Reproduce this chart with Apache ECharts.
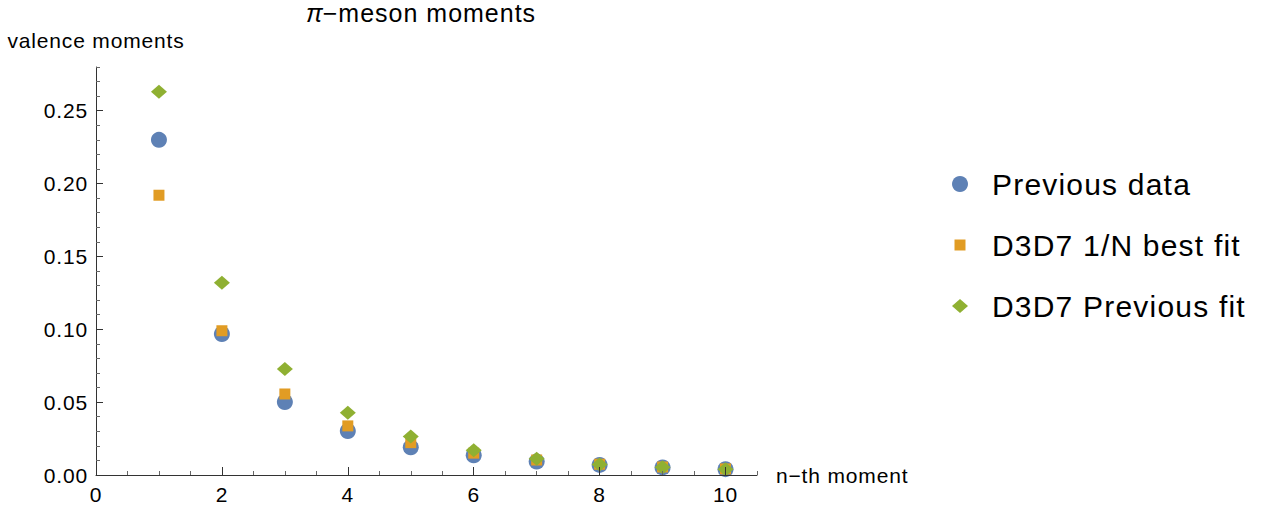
<!DOCTYPE html>
<html>
<head>
<meta charset="utf-8">
<script src="https://cdn.jsdelivr.net/npm/echarts/dist/echarts.min.js"></script>
<style>
  html, body { margin: 0; padding: 0; background: #ffffff; }
  #chart { width: 1275px; height: 510px; }
  /* slightly open tracking for every label */
  #chart text { letter-spacing: 0.04em; }
</style>
</head>
<body>
<div id="chart"></div>
<script>
// n-th moment
const moments = [1, 2, 3, 4, 5, 6, 7, 8, 9, 10];
// valence moments per series
const previousData = [0.230, 0.0968, 0.0501, 0.0302, 0.0190, 0.0135, 0.0092, 0.0069, 0.0052, 0.0040];
const bestFit      = [0.192, 0.0990, 0.0556, 0.0337, 0.0222, 0.0150, 0.0103, 0.0074, 0.0055, 0.0042];
const previousFit  = [0.263, 0.132, 0.0727, 0.0428, 0.0264, 0.0170, 0.0112, 0.0072, 0.0053, 0.0040];

const seriesNames = ['Previous data', 'D3D7 1/N best fit', 'D3D7 Previous fit'];
const xLabelValues = [0, 2, 4, 6, 8, 10];
const yLabelValues = [0, 0.05, 0.10, 0.15, 0.20, 0.25];

const FONT = "'Liberation Sans', Arial, Helvetica, sans-serif";
const BLUE = '#5E81B5', ORANGE = '#E19C24', GREEN = '#8FB032';

const toPoints = ys => moments.map((m, i) => [m, ys[i]]);

// square / diamond icons padded to a 16x16 box so they keep their marker size
const SQUARE_ICON = 'path://M0,0M16,16M2.5,2.5h11v11h-11z';
const DIAMOND_ICON = 'path://M0,0M16,16M8,1L16,8L8,15L0,8z';

const labelText = { fontSize: 21, color: '#000', fontFamily: FONT };

const chart = echarts.init(document.getElementById('chart'), null, { renderer: 'svg' });

chart.setOption({
  animation: false,
  backgroundColor: '#ffffff',
  title: {
    text: '{pi|π}−meson moments',
    left: 306,
    top: 0,
    padding: 0,
    textStyle: {
      fontSize: 25, fontWeight: 'normal', color: '#000', fontFamily: FONT,
      rich: { pi: { fontSize: 25, fontStyle: 'italic', color: '#000', fontFamily: FONT } }
    }
  },
  legend: {
    orient: 'vertical',
    left: 947,
    top: 164,
    itemWidth: 54,
    itemHeight: 16,
    itemGap: 31,
    textStyle: { fontSize: 30, color: '#000', fontFamily: FONT },
    data: [
      { name: seriesNames[0], icon: 'circle' },
      { name: seriesNames[1], icon: SQUARE_ICON },
      { name: seriesNames[2], icon: DIAMOND_ICON }
    ]
  },
  grid: { left: 96, right: 518, top: 67, bottom: 35, containLabel: false, outerBoundsMode: 'none' },
  xAxis: [
    {
      type: 'value', min: 0, max: 10.5, interval: 0.5, z: 3,
      axisLine: { show: true, onZero: false, lineStyle: { color: '#333', width: 1 } },
      axisTick: { show: true, inside: true, length: 4, lineStyle: { color: '#666' } },
      axisLabel: { customValues: xLabelValues, margin: 9, ...labelText, formatter: v => String(v) },
      splitLine: { show: false },
      name: 'n−th moment', nameLocation: 'end', nameGap: 19,
      nameTextStyle: labelText
    },
    {
      type: 'value', position: 'bottom', min: 0, max: 10.5, z: 3,
      axisLine: { show: false },
      axisTick: { show: true, inside: true, length: 8, customValues: xLabelValues, lineStyle: { color: '#333' } },
      axisLabel: { show: false },
      splitLine: { show: false }
    }
  ],
  yAxis: [
    {
      type: 'value', min: 0, max: 0.28, interval: 0.01, z: 3,
      axisLine: { show: true, onZero: false, lineStyle: { color: '#333', width: 1 } },
      axisTick: { show: true, inside: true, length: 4, lineStyle: { color: '#666' } },
      axisLabel: { customValues: yLabelValues, margin: 8, ...labelText, formatter: v => v.toFixed(2) },
      splitLine: { show: false },
      name: 'valence moments', nameLocation: 'end', nameGap: 16,
      nameTextStyle: labelText
    },
    {
      type: 'value', position: 'left', min: 0, max: 0.28, z: 3,
      axisLine: { show: false },
      axisTick: { show: true, inside: true, length: 7, customValues: yLabelValues, lineStyle: { color: '#333' } },
      axisLabel: { show: false },
      splitLine: { show: false }
    }
  ],
  series: [
    {
      name: seriesNames[0], type: 'scatter', xAxisIndex: 0, yAxisIndex: 0,
      symbol: 'circle', symbolSize: 16,
      itemStyle: { color: BLUE, opacity: 1 },
      data: toPoints(previousData)
    },
    {
      name: seriesNames[1], type: 'scatter', xAxisIndex: 0, yAxisIndex: 0,
      symbol: 'rect', symbolSize: 11,
      itemStyle: { color: ORANGE, opacity: 1 },
      data: toPoints(bestFit)
    },
    {
      name: seriesNames[2], type: 'scatter', xAxisIndex: 0, yAxisIndex: 0,
      symbol: 'diamond', symbolSize: [16, 14],
      itemStyle: { color: GREEN, opacity: 1 },
      data: toPoints(previousFit)
    }
  ]
});
</script>
</body>
</html>
